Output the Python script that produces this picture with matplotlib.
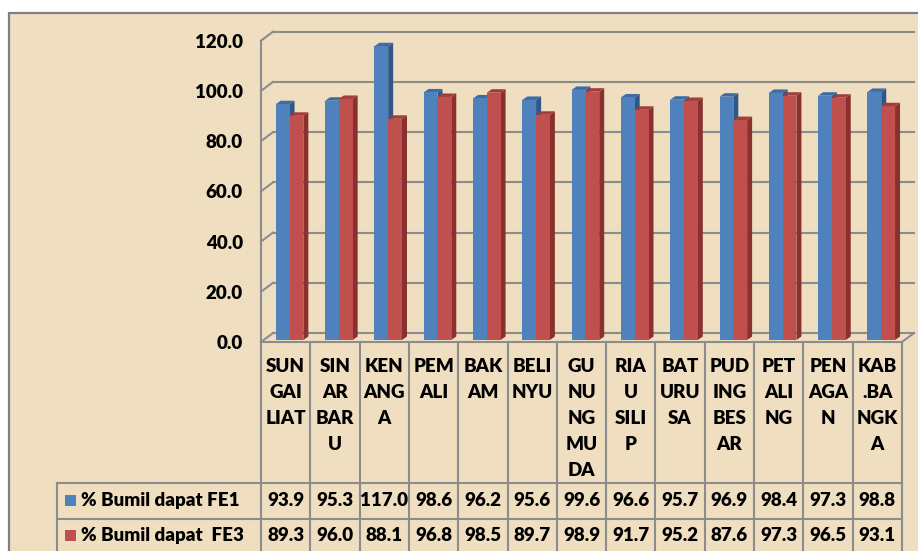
import matplotlib
matplotlib.use("Agg")
import matplotlib.pyplot as plt
from matplotlib.patches import Polygon, Rectangle
from matplotlib.lines import Line2D
from matplotlib.transforms import blended_transform_factory

# ---------------- data ----------------
categories = ["SUN\nGAI\nLIAT", "SIN\nAR\nBAR\nU", "KEN\nANG\nA", "PEM\nALI",
              "BAK\nAM", "BELI\nNYU", "GU\nNU\nNG\nMU\nDA", "RIA\nU\nSILI\nP",
              "BAT\nURU\nSA", "PUD\nING\nBES\nAR", "PET\nALI\nNG", "PEN\nAGA\nN",
              "KAB\n.BA\nNGK\nA"]
fe1 = [93.9, 95.3, 117.0, 98.6, 96.2, 95.6, 99.6, 96.6, 95.7, 96.9, 98.4, 97.3, 98.8]
fe3 = [89.3, 96.0, 88.1, 96.8, 98.5, 89.7, 98.9, 91.7, 95.2, 87.6, 97.3, 96.5, 93.1]
series_names = ["% Bumil dapat FE1", "% Bumil dapat  FE3"]
yticks = [0, 20, 40, 60, 80, 100, 120]

# ---------------- style ----------------
BG = "#EFDFC0"
FRAME = "#808080"
GRID = "#8C8C8C"
BLUE, BLUE_TOP, BLUE_SIDE = "#4F81BD", "#3E6BA6", "#2F5788"
RED, RED_TOP, RED_SIDE = "#C0504D", "#A33D3A", "#8A302E"
FONT = "Lato"
FW = "heavy"
FS = 13.5

W, H = 918, 551
fig = plt.figure(figsize=(W / 100, H / 100), dpi=100)
fig.patch.set_facecolor("white")


def fx(px):
    return px / W


def fy(py):
    return 1 - py / H


# parchment background with frame
fig.add_artist(Rectangle((fx(9), fy(600)), fx(1000) - fx(9), fy(13) - fy(600),
                         transform=fig.transFigure, facecolor=BG, edgecolor=FRAME,
                         lw=1.6, zorder=0))

# plot axes (front plane of the 3D box)
L, R, T, B = 261, 902, 40.7, 342
ax = fig.add_axes([fx(L), fy(B), fx(R) - fx(L), (B - T) / H])
ax.set_xlim(-0.5, len(categories) - 0.5)
ax.set_ylim(0, 120)
ax.patch.set_alpha(0)
for s in ax.spines.values():
    s.set_visible(False)

PX = (R - L) / len(categories)   # pixels per category
PY = (B - T) / 120.0             # pixels per value unit
ddx, ddy = 12 / PX, 9 / PY       # wall depth
x0, x1 = -0.5, len(categories) - 0.5

# back wall gridlines + left slants
for v in yticks:
    ax.add_line(Line2D([x0 + ddx, x1 + ddx], [v + ddy, v + ddy], color=GRID, lw=1.5,
                       clip_on=False, zorder=1))
    ax.add_line(Line2D([x0, x0 + ddx], [v, v + ddy], color=GRID, lw=1.5,
                       clip_on=False, zorder=1))
ax.add_line(Line2D([x0, x0], [0, 120], color=GRID, lw=1.5, clip_on=False, zorder=1))
ax.add_line(Line2D([x0, x1], [0, 0], color=GRID, lw=1.5, clip_on=False, zorder=1))
ax.add_line(Line2D([x1, x1 + ddx], [0, ddy], color=GRID, lw=1.5, clip_on=False, zorder=1))

# 3D-looking bars
bw = 13.8 / PX
base = 2 / PY
sdx, sdy = 5 / PX, 3.5 / PY
offsets = [-9.9 / PX, 3.9 / PX]
series = [(fe1, BLUE, BLUE_TOP, BLUE_SIDE), (fe3, RED, RED_TOP, RED_SIDE)]
xs = list(range(len(categories)))
for si, (vals, cf, ct, cs) in enumerate(series):
    z = 3 + si
    lefts = [x + offsets[si] for x in xs]
    ax.bar(lefts, vals, width=bw, bottom=base, align="edge", color=cf,
           linewidth=0, zorder=z + 0.2, clip_on=False)
    for xl, v in zip(lefts, vals):
        top = base + v
        xr = xl + bw
        ax.add_patch(Polygon([(xr, base), (xr + sdx, base + sdy), (xr + sdx, top + sdy), (xr, top)],
                             closed=True, facecolor=cs, lw=0, zorder=z, clip_on=False))
        ax.add_patch(Polygon([(xl, top), (xr, top), (xr + sdx, top + sdy), (xl + sdx, top + sdy)],
                             closed=True, facecolor=ct, lw=0, zorder=z + 0.1, clip_on=False))

# y axis labels
ax.set_yticks(yticks)
ax.set_yticklabels([f"{v:.1f}" for v in yticks], fontfamily=FONT, fontweight=FW,
                   fontsize=FS)
ax.tick_params(axis="y", length=0, pad=13)
ax.set_xticks([])

# ---------------- data table ----------------
TT = blended_transform_factory(ax.transData, fig.transFigure)
LINE = dict(color=GRID, lw=1.5, clip_on=False, zorder=2)
for k in range(len(categories) + 1):
    ax.add_line(Line2D([x0 + k, x0 + k], [fy(342), fy(600)], transform=TT, **LINE))
for yy in (483, 518.5):
    ax.add_line(Line2D([x0, x1], [fy(yy), fy(yy)], transform=TT, **LINE))
    fig.add_artist(Line2D([fx(57), fx(L)], [fy(yy), fy(yy)], transform=fig.transFigure,
                          color=GRID, lw=1.5, zorder=2))
fig.add_artist(Line2D([fx(57), fx(57)], [fy(483), fy(600)], transform=fig.transFigure,
                      color=GRID, lw=1.5, zorder=2))

txt = dict(fontfamily=FONT, fontweight=FW, fontsize=FS, color="black",
           ha="center", va="center", transform=TT, clip_on=False)
for i, lab in enumerate(categories):
    for k, line in enumerate(lab.split("\n")):
        ax.text(i, fy(367 + 26 * k), line, **txt)

row_y = [500.5, 535.5]
for (vals, cf, _, _), name, ry in zip(series, series_names, row_y):
    for i, v in enumerate(vals):
        ax.text(i, fy(ry), f"{v:.1f}", **txt)
    fig.add_artist(Rectangle((fx(65), fy(ry + 5.5)), fx(11), 11 / H, transform=fig.transFigure,
                             facecolor=cf, lw=0, zorder=3))
    fig.text(fx(81), fy(ry), name, fontfamily=FONT, fontweight=FW, fontsize=FS,
             ha="left", va="center")

fig.savefig("out.png", dpi=100, facecolor="white")
